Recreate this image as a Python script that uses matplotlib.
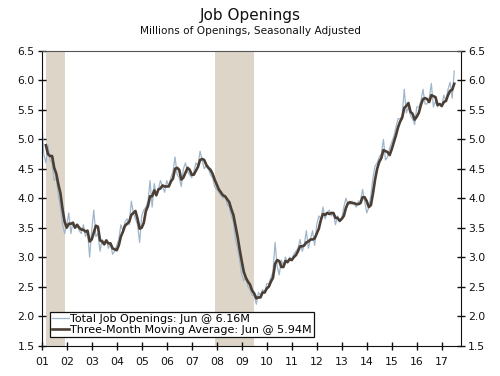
import matplotlib
matplotlib.use('Agg')
import matplotlib.pyplot as plt
import numpy as np
import pandas as pd

# monthly job openings (millions), Dec 2000 .. Jun 2017
openings = [
    5.35,
    4.75, 4.60, 4.90, 4.65, 4.60, 4.30, 4.35, 4.05, 3.85, 3.55, 3.40, 3.55,  # 2001
    3.75, 3.40, 3.60, 3.50, 3.55, 3.45, 3.40, 3.55, 3.35, 3.45, 3.00, 3.45,  # 2002
    3.80, 3.35, 3.40, 3.10, 3.30, 3.25, 3.30, 3.15, 3.25, 3.05, 3.10, 3.20,  # 2003
    3.30, 3.55, 3.45, 3.60, 3.65, 3.55, 3.95, 3.75, 3.65, 3.55, 3.25, 3.70,  # 2004
    3.80, 3.85, 3.95, 4.30, 3.85, 4.25, 4.05, 4.15, 4.30, 4.20, 4.10, 4.30,  # 2005
    4.20, 4.35, 4.45, 4.70, 4.40, 4.35, 4.20, 4.50, 4.60, 4.45, 4.40, 4.35,  # 2006
    4.45, 4.60, 4.55, 4.80, 4.65, 4.50, 4.55, 4.50, 4.40, 4.35, 4.20, 4.15,  # 2007
    4.10, 4.05, 4.00, 4.05, 3.90, 3.85, 3.70, 3.60, 3.30, 3.15, 2.95, 2.70,  # 2008
    2.60, 2.65, 2.50, 2.45, 2.35, 2.35, 2.20, 2.40, 2.35, 2.45, 2.40, 2.55,  # 2009
    2.55, 2.65, 2.75, 3.25, 2.85, 2.70, 2.95, 2.85, 3.00, 2.90, 3.00, 2.95,  # 2010
    3.05, 3.10, 3.15, 3.30, 3.10, 3.20, 3.45, 3.15, 3.30, 3.45, 3.20, 3.55,  # 2011
    3.70, 3.65, 3.85, 3.65, 3.75, 3.80, 3.70, 3.75, 3.55, 3.70, 3.60, 3.65,  # 2012
    3.85, 4.00, 3.90, 3.90, 3.95, 3.90, 3.85, 3.95, 3.95, 4.15, 3.95, 3.75,  # 2013
    3.85, 4.05, 4.35, 4.55, 4.60, 4.70, 4.75, 5.00, 4.65, 4.70, 4.85, 4.95,  # 2014
    5.05, 5.20, 5.35, 5.35, 5.40, 5.85, 5.45, 5.55, 5.40, 5.35, 5.25, 5.55,  # 2015
    5.55, 5.65, 5.85, 5.60, 5.60, 5.70, 5.95, 5.55, 5.65, 5.55, 5.60, 5.55,  # 2016
    5.75, 5.65, 5.85, 5.97, 5.70, 6.16,                                      # 2017
]
dates = pd.date_range('2000-12-01', periods=len(openings), freq='MS')
# recession months (first month, last month)
recessions = [('2001-03', '2001-11'), ('2007-12', '2009-06')]
year_labels = ['%02d' % y for y in range(1, 18)]

s = pd.Series(openings, index=dates)
ma = s.rolling(3).mean()


def to_x(d):
    d = pd.Timestamp(d)
    return d.year + d.month / 12.0


x = np.array([to_x(d) for d in dates])

fig = plt.figure(figsize=(5.0, 3.76), dpi=100)
ax = fig.add_axes([0.0834, 0.0811, 0.8386, 0.7833])

for start, end in recessions:
    ax.axvspan(to_x(start) - 1 / 12.0, to_x(end), color='#ddd5c8', lw=0, zorder=0)

ax.plot(x, s.values, color='#9fb6cc', lw=0.9, label='Total Job Openings: Jun @ 6.16M', zorder=2)
ax.plot(x, ma.values, color='#4a3e35', lw=1.9, label='Three-Month Moving Average: Jun @ 5.94M', zorder=3)

ax.set_xlim(2001, 2017.77)
ax.set_ylim(1.5, 6.5)
ax.set_yticks(np.arange(1.5, 6.51, 0.5))
ax.set_yticklabels(['%.1f' % v for v in np.arange(1.5, 6.51, 0.5)])
ax.set_xticks(np.arange(2001, 2018))
ax.set_xticklabels(year_labels)

ax.tick_params(axis='both', direction='inout', length=6, width=1, colors='#111111',
               labelsize=7.8, pad=2)
ax.tick_params(axis='y', left=True, right=True, labelleft=True, labelright=True)
ax.tick_params(axis='x', pad=5)
for side in ['left', 'bottom', 'right']:
    ax.spines[side].set_color('#111111')
ax.spines['top'].set_color('#555555')

leg = ax.legend(loc='lower left', bbox_to_anchor=(0.02, 0.028), fontsize=8.0,
                frameon=True, fancybox=False, edgecolor='#111111', framealpha=1,
                handlelength=1.5, handletextpad=0.1, borderpad=0.2, labelspacing=0.1,
                borderaxespad=0)
leg.get_frame().set_linewidth(0.9)

fig.text(0.5, 0.96, 'Job Openings', ha='center', va='center', fontsize=11, color='#111111')
fig.text(0.5, 0.917, 'Millions of Openings, Seasonally Adjusted', ha='center', va='center',
         fontsize=7.6, color='#111111')

fig.savefig('out.png', dpi=100)
